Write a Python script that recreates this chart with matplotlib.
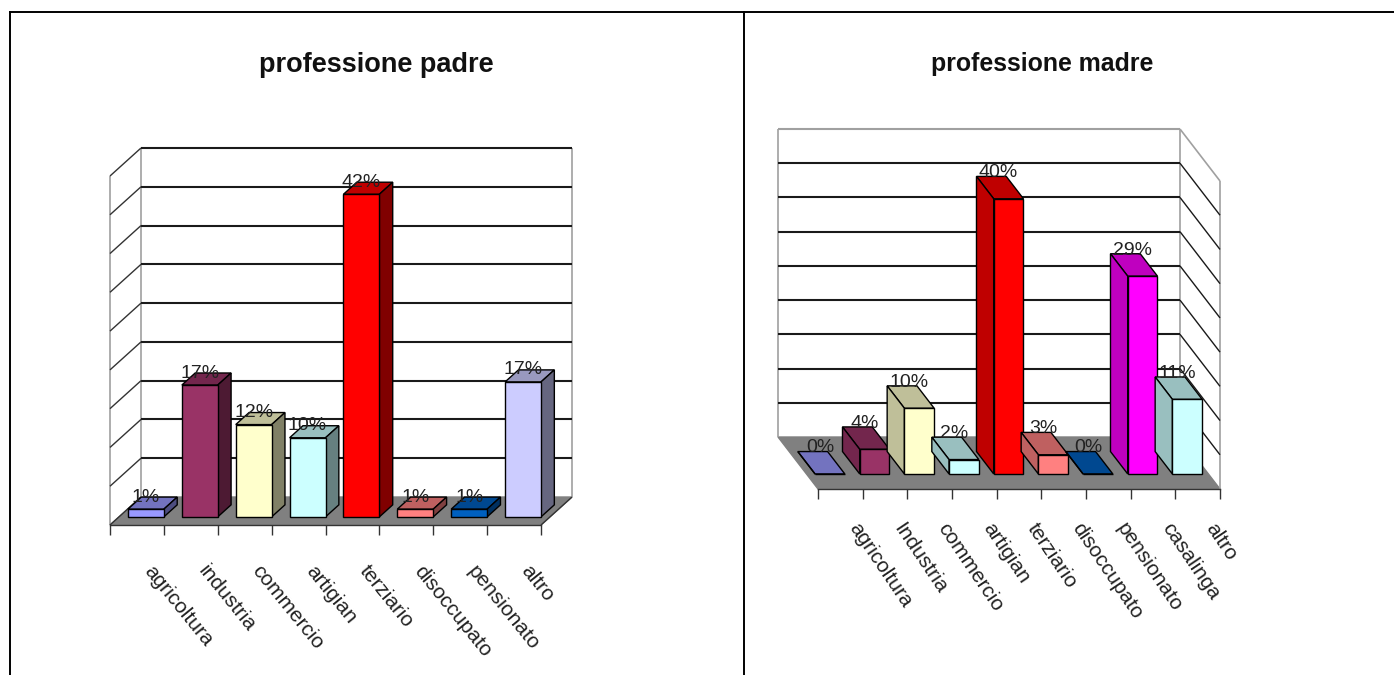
import matplotlib
matplotlib.use("Agg")
import matplotlib.pyplot as plt
from matplotlib.lines import Line2D
from matplotlib.colors import to_rgb

plt.rcParams['font.family'] = ['Liberation Sans', 'DejaVu Sans']

W, H = 1394, 675

cat_padre = ["agricoltura", "industria", "commercio", "artigian", "terziario",
             "disoccupato", "pensionato", "altro"]
val_padre = [1, 17, 11.9, 10.2, 41.6, 1, 1, 17.4]
col_padre = ["#9999FF", "#993366", "#FFFFCC", "#CCFFFF", "#FF0000", "#FF8080",
             "#0060C0", "#CCCCFF"]

cat_madre = ["agricoltura", "Industria", "commercio", "artigian", "terziario",
             "disoccupato", "pensionato", "casalinga", "altro"]
val_madre = [0, 3.6, 9.6, 2.1, 40.2, 2.8, 0, 28.9, 10.9]
col_madre = ["#9999FF", "#993366", "#FFFFCC", "#CCFFFF", "#FF0000", "#FF8080",
             "#0060C0", "#FF00FF", "#CCFFFF"]

grid_vals = [5, 10, 15, 20, 25, 30, 35, 40, 45]
y_max = 45


def shade(c, f):
    r, g, b = to_rgb(c)
    return (r * f, g * f, b * f)


def draw_chart(rect, cats, vals, cols, depth_x, depth_y, bar_off, side, side_f,
               label_off, cat_off, cat_drop, cat_rot):
    left, right, bottom, top = rect
    ax = fig.add_axes([left / W, 1 - bottom / H, (right - left) / W, (bottom - top) / H])
    n = len(cats)
    ax.set_xlim(0, n)
    ax.set_ylim(0, y_max)
    ax.patch.set_visible(False)

    # depth in pixels -> data units
    dx = depth_x / ((right - left) / n)
    dy = depth_y / ((bottom - top) / y_max)

    def p(x, y, d):
        return x + d * dx, y + d * dy

    def poly(pts, **kw):
        xs, ys = zip(*pts)
        ax.fill(xs, ys, clip_on=False, **kw)

    def line(a, b, color, lw, z=2):
        ax.plot([a[0], b[0]], [a[1], b[1]], color=color, lw=lw, clip_on=False,
                solid_capstyle="butt", zorder=z)

    # floor
    poly([p(0, 0, 0), p(n, 0, 0), p(n, 0, 1), p(0, 0, 1)], color="#808080", zorder=1)

    # walls
    gray = "#a0a0a0"
    line(p(0, 0, 1), p(0, y_max, 1), gray, 1.2)
    line(p(n, 0, 1), p(n, y_max, 1), gray, 1.2)
    for g in grid_vals:
        is_top = g == y_max
        line(p(0, g, 1), p(n, g, 1), gray if (is_top and side == "left") else "#1a1a1a", 1.5)
    if side == "right":
        # wall on the left, bars show right face
        line(p(0, 0, 0), p(0, y_max, 0), gray, 1.2)
        for g in [0] + grid_vals:
            line(p(0, g, 0), p(0, g, 1), "#333333", 1.0)
        line(p(n, 0, 0), p(n, 0, 1), "#333333", 1.0, z=3)
    else:
        line(p(n, 0, 0), p(n, y_max, 0), gray, 1.2)
        line(p(n, y_max, 0), p(n, y_max, 1), gray, 1.2)
        for g in grid_vals[:-1]:
            line(p(n, g, 0), p(n, g, 1), "#1a1a1a", 1.0)

    # bars
    d0, d1 = 0.29, 0.72
    width = 2 / 3
    for i, v in enumerate(vals):
        x0 = i + bar_off
        x1 = x0 + width
        c = cols[i]
        edge = dict(edgecolor="black", linewidth=1.0, zorder=4 + i * 0.1)
        poly([p(x0, v, d0), p(x1, v, d0), p(x1, v, d1), p(x0, v, d1)],
             facecolor=shade(c, 0.75), **edge)
        xs = x1 if side == "right" else x0
        poly([p(xs, 0, d0), p(xs, v, d0), p(xs, v, d1), p(xs, 0, d1)],
             facecolor=shade(c, side_f), **edge)
        bx, by = p(x0, 0, d0)
        ax.bar(bx, v, width=width, bottom=by, align="edge", color=c, edgecolor="black",
               linewidth=1.0, clip_on=False, zorder=4 + i * 0.1)

    for i, v in enumerate(vals):
        bx, by = p(i + bar_off + width / 2, v, d0)
        ax.annotate("%d%%" % round(v), (bx, by), xytext=(label_off[0] * 0.72, label_off[1] * 0.72),
                    textcoords="offset points", ha="center", va="center", fontsize=14,
                    color="#222222", zorder=10, annotation_clip=False)

    # front axis
    for s in ["top", "left", "right"]:
        ax.spines[s].set_visible(False)
    ax.spines["bottom"].set_color("#333333")
    ax.spines["bottom"].set_linewidth(1.0)
    ax.set_xticks(range(n + 1))
    ax.set_xticklabels([])
    ax.set_yticks([])
    ax.tick_params(axis="x", length=7, width=1.0, color="#333333")

    for i, c in enumerate(cats):
        ax.annotate(c, (i + cat_off, 0), xytext=(0, -cat_drop * 0.72), textcoords="offset points",
                    rotation=cat_rot, rotation_mode="anchor", ha="left", va="center",
                    fontsize=15, color="#222222", annotation_clip=False)
    return ax


fig = plt.figure(figsize=(W / 100, H / 100), dpi=100, facecolor="white")

# outer frame of the two cells
for xs, ys in [((10, W), (12, 12)), ((10, 10), (12, H)), ((744, 744), (12, H))]:
    fig.add_artist(Line2D([x / W for x in xs], [1 - y / H for y in ys], color="black", lw=1.4))

fig.text(376 / W, 1 - 65 / H, "professione padre", fontsize=19.5, fontweight="bold",
         ha="center", va="center", color="#111111")
fig.text(1042 / W, 1 - 64 / H, "professione madre", fontsize=17.9, fontweight="bold",
         ha="center", va="center", color="#111111")

draw_chart((110, 541, 525, 176), cat_padre, val_padre, col_padre, 31, 28, 1 / 6,
           "right", 0.5, (0, 12), 0.70, 43, -51)
draw_chart((818, 1220, 489, 181), cat_madre, val_madre, col_madre, -40, 52, 0.193,
           "left", 0.75, (-10, 26), 0.78, 36, -56)

fig.savefig("out.png", dpi=100)
